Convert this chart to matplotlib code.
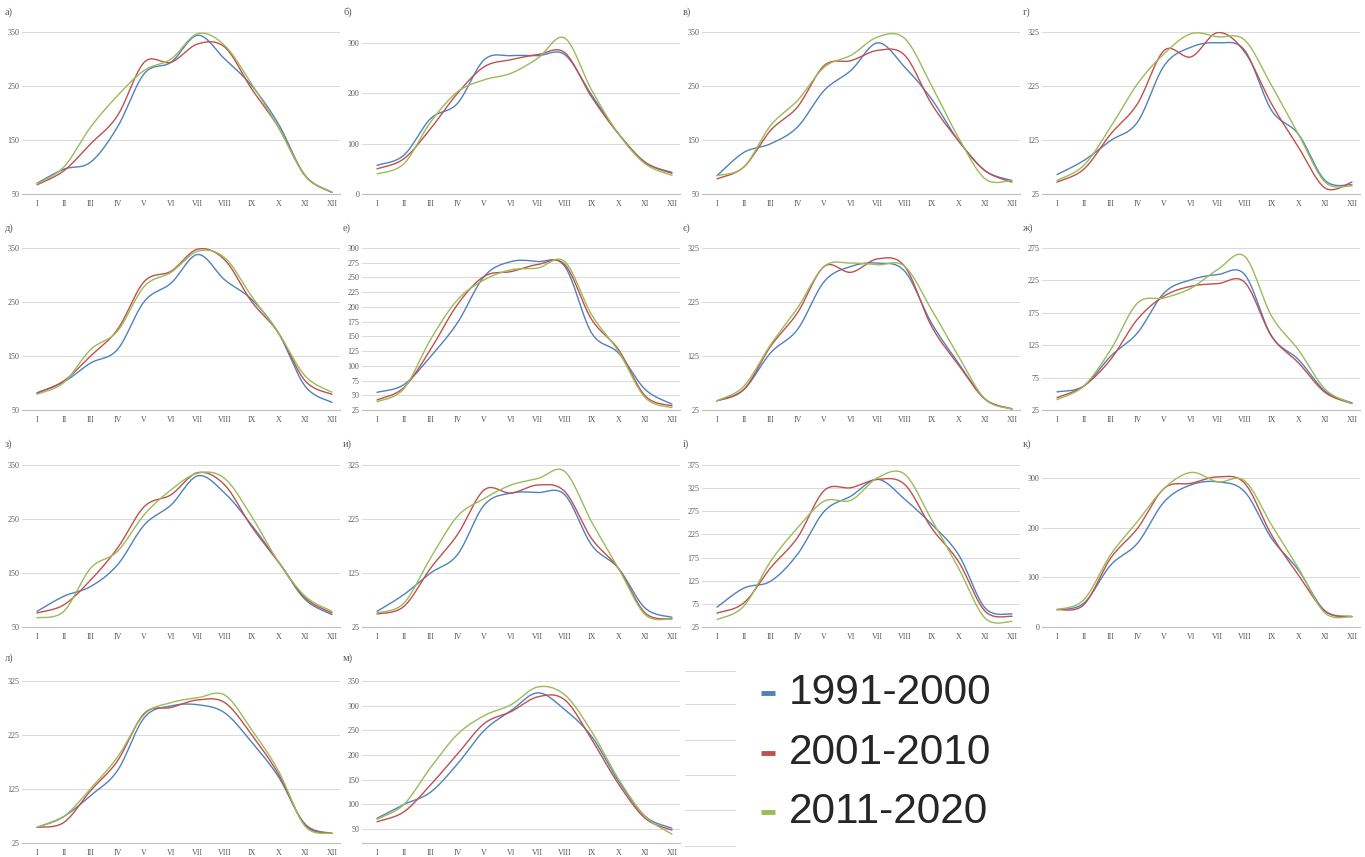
import numpy as np
import matplotlib
matplotlib.use("Agg")
import matplotlib.pyplot as plt
from matplotlib.lines import Line2D

W, H = 1365, 857

months = ["I", "II", "III", "IV", "V", "VI", "VII", "VIII", "IX", "X", "XI", "XII"]
series_names = ["1991-2000", "2001-2010", "2011-2020"]
colors = ["#4F81BD", "#C0504D", "#9BBB59"]

panel_labels = ["а)", "б)", "в)", "г)", "д)", "е)", "є)", "ж)", "з)", "и)", "і)", "к)", "л)", "м)"]

# values per panel: [1991-2000, 2001-2010, 2011-2020]
a_vals = [[70, 96, 109, 174, 273, 294, 344, 300, 251, 180, 84, 53],
          [67, 93, 143, 195, 294, 294, 328, 322, 245, 174, 84, 53],
          [69, 100, 174, 232, 279, 300, 347, 325, 254, 174, 84, 53]]
b_vals = [[57, 77, 150, 180, 267, 275, 275, 277, 197, 120, 63, 43],
          [50, 70, 130, 200, 253, 267, 277, 281, 193, 120, 63, 41],
          [40, 60, 143, 203, 227, 240, 270, 310, 207, 120, 60, 37]]
v_vals = [[84, 127, 143, 174, 242, 279, 330, 285, 226, 149, 93, 75],
          [78, 100, 168, 211, 288, 297, 316, 307, 217, 149, 93, 72],
          [84, 100, 177, 223, 285, 307, 341, 338, 251, 155, 78, 75]]
g_vals = [[61, 87, 124, 158, 263, 297, 305, 291, 180, 136, 50, 42],
          [47, 71, 136, 192, 291, 279, 324, 288, 192, 112, 36, 47],
          [50, 78, 149, 229, 285, 322, 316, 310, 226, 136, 47, 40]]
d_vals = [[82, 102, 137, 162, 251, 285, 338, 291, 255, 193, 94, 64],
          [81, 104, 150, 199, 288, 307, 348, 328, 251, 193, 104, 79],
          [79, 101, 162, 196, 279, 305, 344, 332, 261, 193, 113, 83]]
e_vals = [[55, 68, 116, 173, 252, 277, 277, 269, 156, 122, 60, 35],
          [42, 63, 128, 204, 252, 260, 272, 272, 179, 128, 49, 32],
          [39, 61, 145, 212, 246, 263, 266, 277, 187, 125, 46, 29]]
ye_vals = [[42, 63, 131, 174, 263, 291, 297, 282, 186, 112, 45, 27],
           [42, 63, 143, 205, 291, 280, 305, 291, 180, 109, 45, 27],
           [42, 69, 146, 214, 291, 297, 294, 291, 211, 125, 45, 27]]
zh_vals = [[53, 62, 108, 144, 206, 226, 234, 234, 139, 103, 54, 36],
           [44, 62, 103, 165, 201, 216, 220, 222, 139, 98, 52, 35],
           [41, 62, 118, 190, 198, 213, 242, 262, 170, 118, 57, 35]]
z_vals = [[79, 107, 125, 165, 239, 276, 330, 298, 239, 171, 101, 73],
          [76, 91, 137, 196, 273, 295, 336, 313, 236, 171, 104, 76],
          [67, 79, 159, 190, 258, 304, 335, 325, 255, 171, 107, 79]]
y_vals = [[54, 85, 125, 159, 251, 273, 274, 270, 177, 134, 60, 43],
          [49, 63, 134, 196, 279, 273, 288, 276, 189, 134, 51, 40],
          [51, 69, 153, 230, 263, 288, 300, 313, 220, 134, 48, 40]]
i_vals = [[68, 109, 124, 182, 275, 308, 344, 301, 247, 182, 66, 53],
          [55, 77, 153, 218, 320, 326, 344, 333, 239, 167, 59, 48],
          [41, 70, 167, 239, 297, 299, 348, 355, 257, 153, 44, 37]]
k_vals = [[35, 48, 125, 169, 253, 287, 293, 273, 179, 115, 32, 21],
          [35, 45, 139, 199, 280, 290, 303, 290, 186, 105, 32, 21],
          [35, 55, 146, 213, 280, 312, 293, 295, 206, 119, 28, 21]]
l_vals = [[54, 74, 113, 159, 257, 279, 281, 266, 212, 148, 60, 43],
          [54, 63, 122, 177, 265, 276, 290, 285, 226, 153, 58, 43],
          [54, 74, 126, 184, 263, 285, 294, 299, 235, 159, 56, 43]]
m_vals = [[72, 100, 125, 182, 250, 290, 326, 292, 238, 148, 76, 52],
          [65, 85, 140, 202, 264, 288, 318, 312, 232, 142, 72, 48],
          [70, 100, 175, 242, 280, 302, 338, 322, 248, 152, 76, 40]]

panel_data = [a_vals, b_vals, v_vals, g_vals, d_vals, e_vals, ye_vals, zh_vals,
              z_vals, y_vals, i_vals, k_vals, l_vals, m_vals]

y_ticks = [[50, 150, 250, 350], [0, 100, 200, 300], [50, 150, 250, 350], [25, 125, 225, 325],
           [50, 150, 250, 350], list(range(25, 301, 25)), [25, 125, 225, 325], [25, 75, 125, 175, 225, 275],
           [50, 150, 250, 350], [25, 125, 225, 325], list(range(25, 376, 50)), [0, 100, 200, 300],
           [25, 125, 225, 325], list(range(50, 351, 50))]
y_lims = [(50, 350), (0, 322), (50, 350), (25, 325),
          (50, 350), (25, 300), (25, 325), (25, 275),
          (50, 350), (25, 325), (25, 375), (0, 327),
          (25, 325), (22, 350)]


def smooth(yv, n=24):
    """Excel-style smoothed line (Catmull-Rom Bezier) through the points."""
    x = np.arange(len(yv), dtype=float)
    y = np.asarray(yv, dtype=float)
    P = np.column_stack([x, y])
    Pp = np.vstack([P[0], P, P[-1]])
    out = []
    t = np.linspace(0, 1, n)[:, None]
    for i in range(len(P) - 1):
        p0, p1, p2, p3 = Pp[i], Pp[i + 1], Pp[i + 2], Pp[i + 3]
        c1 = p1 + (p2 - p0) / 6.0
        c2 = p2 - (p3 - p1) / 6.0
        seg = ((1 - t) ** 3) * p1 + 3 * ((1 - t) ** 2) * t * c1 + 3 * (1 - t) * t ** 2 * c2 + t ** 3 * p2
        out.append(seg if i == 0 else seg[1:])
    s = np.vstack(out)
    return s[:, 0], s[:, 1]


fig = plt.figure(figsize=(W / 100, H / 100), dpi=100)
fig.patch.set_facecolor("white")

col_left = [22, 362, 702, 1042]
ax_w = 318
row_top = [32, 248, 465, 681]
ax_h = 162
label_y = [12, 228, 444, 658]
label_x = [5, 343, 683, 1023]

serif = ["Liberation Serif", "DejaVu Serif"]
tick_color = "#595959"
grid_color = "#D9D9D9"

for idx, vals in enumerate(panel_data):
    r, c = divmod(idx, 4)
    left = col_left[c] / W
    bottom = 1 - (row_top[r] + ax_h) / H
    ax = fig.add_axes([left, bottom, ax_w / W, ax_h / H])
    for s, col in zip(vals, colors):
        xs, ys = smooth(s)
        ax.plot(xs, ys, color=col, lw=1.0, solid_capstyle="round", zorder=3)
    ax.set_xlim(-0.56, 11.3)
    ax.set_ylim(*y_lims[idx])
    ax.set_yticks(y_ticks[idx])
    ax.set_xticks(range(12))
    ax.set_xticklabels(months)
    for sp in ["top", "right", "left"]:
        ax.spines[sp].set_visible(False)
    ax.spines["bottom"].set_color("#BFBFBF")
    ax.spines["bottom"].set_linewidth(0.8)
    ax.grid(axis="y", color=grid_color, lw=0.7, zorder=0)
    ax.tick_params(axis="both", length=0, labelsize=5.8, colors=tick_color, pad=2)
    ax.tick_params(axis="x", pad=4)
    for lab in ax.get_xticklabels() + ax.get_yticklabels():
        lab.set_family(serif)
    ax.set_facecolor("none")
    fig.text(label_x[c] / W, 1 - label_y[r] / H, panel_labels[idx], family=serif,
             fontsize=7.5, color=tick_color, ha="left", va="center")

# faint remnant lines of an empty chart area
for yy in [671, 704, 740, 775, 810, 846]:
    fig.add_artist(Line2D([685 / W, 735 / W], [1 - yy / H, 1 - yy / H],
                          color="#D9D9D9", lw=0.7))

# legend
leg_y = [693, 753, 812]
for name, col, yy in zip(series_names, colors, leg_y):
    fig.add_artist(Line2D([761 / W, 775 / W], [1 - yy / H, 1 - yy / H],
                          color=col, lw=3.5, solid_capstyle="butt"))
    fig.text(789 / W, 1 - yy / H, name, fontsize=30.5, color="#262626",
             family=["Liberation Sans", "DejaVu Sans"], ha="left", va="center")

fig.savefig("out.png", dpi=100, facecolor="white")
